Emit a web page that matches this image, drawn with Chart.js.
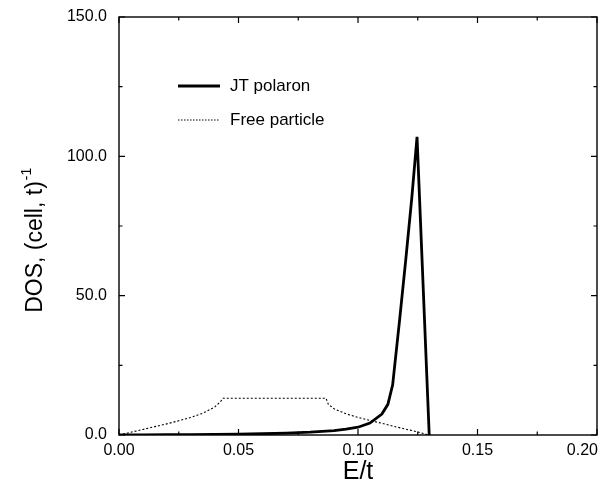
<!DOCTYPE html>
<html>
<head>
<meta charset="utf-8">
<script src="https://cdn.jsdelivr.net/npm/chart.js@4.4.1/dist/chart.umd.min.js"></script>
<style>
  html, body { margin: 0; padding: 0; background: #fff; overflow: hidden; }
  canvas { display: block; }
</style>
</head>
<body>
<canvas id="dos" width="610" height="481"></canvas>
<script>
// DOS vs E/t — JT polaron against free particle

// ─── Data ───────────────────────────────────────────────────
const jtEnergy = [0.000, 0.010, 0.020, 0.030, 0.040, 0.050, 0.060, 0.070, 0.080, 0.090,
                  0.095, 0.100, 0.105, 0.110, 0.1125, 0.1145, 0.1175, 0.1200, 0.1225, 0.1247, 0.1298];
const jtDos    = [0.0, 0.05, 0.1, 0.15, 0.2, 0.3, 0.45, 0.65, 1.0, 1.6,
                  2.1, 2.8, 4.3, 7.5, 11.0, 18.0, 42.0, 63.0, 85.0, 107.0, 0.0];

const freeEnergy = [0.000, 0.005, 0.010, 0.015, 0.020, 0.025, 0.030, 0.035, 0.040, 0.0425, 0.0435,
                    0.0866, 0.0876, 0.090, 0.095, 0.100, 0.105, 0.110, 0.115, 0.120, 0.125, 0.1295];
const freeDos    = [0.0, 1.0, 2.0, 3.0, 4.0, 5.1, 6.3, 7.8, 10.0, 12.0, 13.2,
                    13.2, 11.0, 9.4, 7.6, 6.3, 5.2, 4.2, 3.1, 2.1, 1.1, 0.0];

const xTicks = [0.00, 0.05, 0.10, 0.15, 0.20];
const yTicks = [0.0, 50.0, 100.0, 150.0];

const FONT = '"Liberation Sans", Arial, Helvetica, sans-serif';

function pairs(xs, ys) {
    return xs.map(function (x, i) { return { x: x, y: ys[i] }; });
}

function isMajor(value, list) {
    return list.some(function (t) { return Math.abs(t - value) < 1e-9; });
}

// ─── Frame, inward ticks, x labels, legend, axis titles ─────
const decorPlugin = {
    id: 'decor',
    afterDraw: function (chart) {
        const ctx = chart.ctx;
        const a = chart.chartArea;
        const xs = chart.scales.x;
        const ys = chart.scales.y;
        ctx.save();
        ctx.strokeStyle = '#000';
        ctx.fillStyle = '#000';
        ctx.lineWidth = 1.4;
        ctx.strokeRect(a.left, a.top, a.right - a.left, a.bottom - a.top);

        ctx.lineWidth = 1.2;
        xs.ticks.forEach(function (t) {
            const px = xs.getPixelForValue(t.value);
            const len = isMajor(t.value, xTicks) ? 6 : 3.5;
            ctx.beginPath();
            ctx.moveTo(px, a.bottom); ctx.lineTo(px, a.bottom - len);
            ctx.moveTo(px, a.top);    ctx.lineTo(px, a.top + len);
            ctx.stroke();
        });
        ys.ticks.forEach(function (t) {
            const py = ys.getPixelForValue(t.value);
            const len = isMajor(t.value, yTicks) ? 6 : 3.5;
            ctx.beginPath();
            ctx.moveTo(a.left, py);  ctx.lineTo(a.left + len, py);
            ctx.moveTo(a.right, py); ctx.lineTo(a.right - len, py);
            ctx.stroke();
        });

        // x tick labels (last one kept inside the frame, as in the figure)
        ctx.font = '16px ' + FONT;
        ctx.textBaseline = 'middle';
        xTicks.forEach(function (v, i) {
            const px = xs.getPixelForValue(v);
            const last = i === xTicks.length - 1;
            ctx.textAlign = last ? 'right' : 'center';
            ctx.fillText(v.toFixed(2), last ? px + 1 : px, a.bottom + 16);
        });

        // legend
        ctx.font = '17px ' + FONT;
        ctx.textAlign = 'left';
        ctx.lineWidth = 3;
        ctx.beginPath(); ctx.moveTo(178, 86); ctx.lineTo(220, 86); ctx.stroke();
        ctx.fillText('JT polaron', 230, 86);
        ctx.lineWidth = 1;
        ctx.setLineDash([1.5, 1.5]);
        ctx.beginPath(); ctx.moveTo(178, 120); ctx.lineTo(220, 120); ctx.stroke();
        ctx.setLineDash([]);
        ctx.fillText('Free particle', 230, 120);

        // x title
        ctx.font = '25px ' + FONT;
        ctx.textAlign = 'center';
        ctx.textBaseline = 'alphabetic';
        ctx.fillText('E/t', (a.left + a.right) / 2, 479);

        // y title with superscript
        ctx.translate(42, 247);
        ctx.rotate(-Math.PI / 2);
        ctx.font = '23px ' + FONT;
        const main = 'DOS, (cell, t)';
        const w = ctx.measureText(main).width;
        ctx.textAlign = 'left';
        ctx.fillText(main, -w / 2, 0);
        ctx.font = '14px ' + FONT;
        ctx.fillText('-1', w / 2 + 1, -11);
        ctx.restore();
    }
};

// ─── Chart ──────────────────────────────────────────────────
new Chart(document.getElementById('dos'), {
    type: 'line',
    data: {
        datasets: [{
            label: 'JT polaron',
            data: pairs(jtEnergy, jtDos),
            borderColor: '#000',
            borderWidth: 2.8,
            pointRadius: 0,
            tension: 0,
            fill: false,
        }, {
            label: 'Free particle',
            data: pairs(freeEnergy, freeDos),
            borderColor: '#000',
            borderWidth: 1.1,
            borderDash: [2, 2],
            pointRadius: 0,
            tension: 0,
            fill: false,
        }],
    },
    options: {
        responsive: false,
        animation: false,
        layout: { padding: { left: 0, top: 17, right: 13, bottom: 0 } },
        plugins: {
            legend: { display: false },
            tooltip: { enabled: false },
        },
        scales: {
            x: {
                type: 'linear',
                min: 0,
                max: 0.2,
                afterFit: function (s) {
                    s.height = 46;
                    s.paddingLeft = 0;
                    s.paddingRight = 0;
                },
                afterBuildTicks: function (s) {
                    const t = [];
                    for (let i = 0; i <= 8; i++) t.push({ value: i * 0.025 });
                    s.ticks = t;
                },
                grid: { display: false, drawTicks: false },
                border: { display: false },
                ticks: { display: false },
            },
            y: {
                type: 'linear',
                min: 0,
                max: 150,
                afterFit: function (s) {
                    s.width = 119;
                    s.paddingTop = 0;
                    s.paddingBottom = 0;
                },
                afterBuildTicks: function (s) {
                    const t = [];
                    for (let i = 0; i <= 6; i++) t.push({ value: i * 25 });
                    s.ticks = t;
                },
                grid: { display: false, drawTicks: false },
                border: { display: false },
                ticks: {
                    autoSkip: false,
                    padding: 12,
                    color: '#000',
                    font: { family: FONT, size: 16 },
                    callback: function (v) { return isMajor(v, yTicks) ? v.toFixed(1) : ''; },
                },
            },
        },
    },
    plugins: [decorPlugin],
});
</script>
</body>
</html>
